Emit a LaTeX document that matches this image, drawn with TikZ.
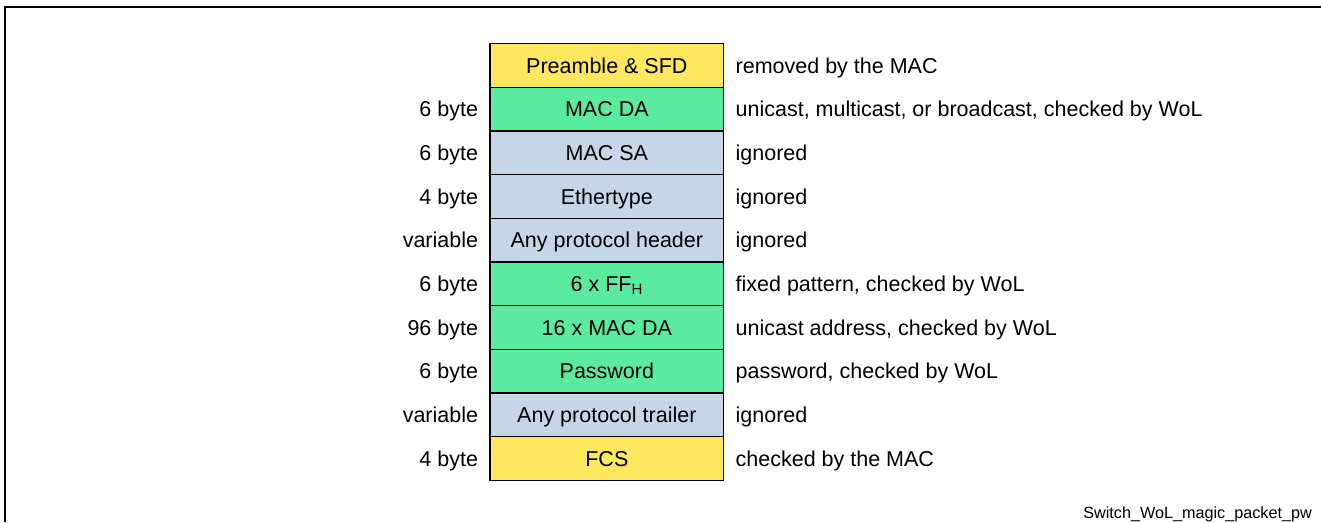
\documentclass[tikz,border=0pt]{standalone}
\usepackage{fontspec}
\setmainfont{Liberation Sans}
\definecolor{yel}{RGB}{253,231,95}
\definecolor{grn}{RGB}{91,235,160}
\definecolor{gry}{RGB}{199,214,230}
\begin{document}
\begin{tikzpicture}[x=1pt,y=-1pt,
  field/.style={draw=black, line width=1.5pt, minimum width=233.7pt, minimum height=43.66pt,
    inner sep=0pt, text height=15.4pt, text depth=0pt, font=\fontsize{21.5}{24}\selectfont},
  lab/.style={inner sep=0pt, text height=15.4pt, text depth=0pt, font=\fontsize{21.5}{24}\selectfont},
  leftlab/.style={lab, anchor=east, xshift=-11pt},
  rightlab/.style={lab, anchor=west, xshift=11pt},
  foot/.style={inner sep=0pt, text height=11.5pt, text depth=0pt, font=\fontsize{16.2}{19}\selectfont}]
\useasboundingbox (0,0) rectangle (1321,522);
\draw[line width=2pt] (5,522) -- (5,7) -- (1321,7);
\node[field, fill=yel] (r0) at (606.85,65.5) {Preamble \& SFD};
\node[field, fill=grn] (r1) at (606.85,109.2) {MAC DA};
\node[field, fill=gry] (r2) at (606.85,152.9) {MAC SA};
\node[field, fill=gry] (r3) at (606.85,196.5) {Ethertype};
\node[field, fill=gry] (r4) at (606.85,240.2) {Any protocol header};
\node[field, fill=grn] (r5) at (606.85,283.8) {6 x FF\textsubscript{H}};
\node[field, fill=grn] (r6) at (606.85,327.5) {16 x MAC DA};
\node[field, fill=grn] (r7) at (606.85,371.2) {Password};
\node[field, fill=gry] (r8) at (606.85,414.8) {Any protocol trailer};
\node[field, fill=yel] (r9) at (606.85,458.5) {FCS};
\node[leftlab] (l1) at (r1.west) {6 byte};
\node[leftlab] (l2) at (r2.west) {6 byte};
\node[leftlab] (l3) at (r3.west) {4 byte};
\node[leftlab] (l4) at (r4.west) {variable};
\node[leftlab] (l5) at (r5.west) {6 byte};
\node[leftlab] (l6) at (r6.west) {96 byte};
\node[leftlab] (l7) at (r7.west) {6 byte};
\node[leftlab] (l8) at (r8.west) {variable};
\node[leftlab] (l9) at (r9.west) {4 byte};
\node[rightlab] (d0) at (r0.east) {removed by the MAC};
\node[rightlab] (d1) at (r1.east) {unicast, multicast, or broadcast, checked by WoL};
\node[rightlab] (d2) at (r2.east) {ignored};
\node[rightlab] (d3) at (r3.east) {ignored};
\node[rightlab] (d4) at (r4.east) {ignored};
\node[rightlab] (d5) at (r5.east) {fixed pattern, checked by WoL};
\node[rightlab] (d6) at (r6.east) {unicast address, checked by WoL};
\node[rightlab] (d7) at (r7.east) {password, checked by WoL};
\node[rightlab] (d8) at (r8.east) {ignored};
\node[rightlab] (d9) at (r9.east) {checked by the MAC};
\node[foot, anchor=east] (ft) at (1312,513) {Switch\_WoL\_magic\_packet\_pw};
\end{tikzpicture}
\end{document}
